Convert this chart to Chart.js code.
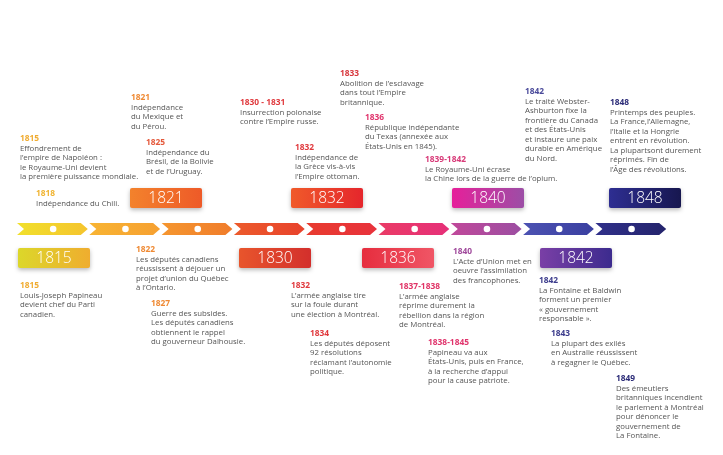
<!DOCTYPE html>
<html>
<head>
<meta charset="utf-8">
<script src="https://cdn.jsdelivr.net/npm/chart.js@4"></script>
<style>
  body { margin: 0; background: #fff; }
  #wrap { width: 723px; height: 455px; }
</style>
</head>
<body>
<div id="wrap"><canvas id="timeline" width="723" height="455"></canvas></div>
<script>
'use strict';

//***********Data***********
// the nine arrow pieces of the timeline band
let segmentCount = 9;

// big year boxes
let boxYears = ['1815', '1821', '1830', '1832', '1836', '1840', '1842', '1848'];

// events (heading + text lines)
let eventYears = [
  '1815', '1818', '1821', '1825', '1830 - 1831', '1832', '1833', '1836', '1839-1842', '1842', '1848',
  '1815', '1822', '1827', '1832', '1834', '1837-1838', '1838-1845', '1840', '1842', '1843', '1849'
];
let eventTexts = [
  ['Effondrement de', 'l\u2019empire de Napoléon :', 'le Royaume-Uni devient', 'la première puissance mondiale.'],
  ['Indépendance du Chili.'],
  ['Indépendance', 'du Mexique et', 'du Pérou.'],
  ['Indépendance du', 'Brésil, de la Bolivie', 'et de l\u2019Uruguay.'],
  ['Insurrection polonaise', 'contre l\u2019Empire russe.'],
  ['Indépendance de', 'la Grèce vis-à-vis', 'l\u2019Empire ottoman.'],
  ['Abolition de l\u2019esclavage', 'dans tout l\u2019Empire', 'britannique.'],
  ['République indépendante', 'du Texas (annexée aux', 'États-Unis en 1845).'],
  ['Le Royaume-Uni écrase', 'la Chine lors de la guerre de l\u2019opium.'],
  ['Le traité Webster-', 'Ashburton fixe la', 'frontière du Canada', 'et des États-Unis', 'et instaure une paix', 'durable en Amérique', 'du Nord.'],
  ['Printemps des peuples.', 'La France,l\u2019Allemagne,', 'l\u2019Italie et la Hongrie', 'entrent en révolution.', 'La plupartsont durement', 'réprimés. Fin de', 'l\u2019Âge des révolutions.'],
  ['Louis-Joseph Papineau', 'devient chef du Parti', 'canadien.'],
  ['Les députés canadiens', 'réussissent à déjouer un', 'projet d\u2019union du Québec', 'à l\u2019Ontario.'],
  ['Guerre des subsides.', 'Les députés canadiens', 'obtiennent le rappel', 'du gouverneur Dalhousie.'],
  ['L\u2019armée anglaise tire', 'sur la foule durant', 'une élection à Montréal.'],
  ['Les députés déposent', '92 résolutions', 'réclamant l\u2019autonomie', 'politique.'],
  ['L\u2019armée anglaise', 'réprime durement la', 'rébellion dans la région', 'de Montréal.'],
  ['Papineau va aux', 'États-Unis, puis en France,', 'à la recherche d\u2019appui', 'pour la cause patriote.'],
  ['L\u2019Acte d\u2019Union met en', 'oeuvre l\u2019assimilation', 'des francophones.'],
  ['La Fontaine et Baldwin', 'forment un premier', '« gouvernement', 'responsable ».'],
  ['La plupart des exilés', 'en Australie réussissent', 'à regagner le Québec.'],
  ['Des émeutiers', 'britanniques incendient', 'le parlement à Montréal', 'pour dénoncer le', 'gouvernement de', 'La Fontaine.']
];

//***********Layout & styles***********
let band = { start: 17, width: 72.3, top: 223, bottom: 235, tip: 7, gap: 1.5 };
let segmentColors = [
  ['#f1e02c', '#f5c42e'], ['#f8b433', '#f6a031'], ['#f5962f', '#f07c2b'],
  ['#ec5b2c', '#e8422c'], ['#e83b2f', '#e8323c'], ['#ea3b66', '#e63079'],
  ['#c0489a', '#9c4ea2'], ['#4c52b2', '#3a3fa0'], ['#30308a', '#24246c']
];
// box left x and top y
let boxPos = [[18, 248], [130, 188], [239, 248], [291, 188], [362, 248], [452, 188], [540, 248], [609, 188]];
let boxColors = [
  ['#dcd72a', '#efad2f'], ['#f3822c', '#ee5a28'], ['#e8552c', '#d32f2c'], ['#f05a2a', '#e5262c'],
  ['#e62d3e', '#f05666'], ['#e6209a', '#9c4ea6'], ['#7a3fa6', '#3c2b8e'], ['#2e2e92', '#17174f']
];
// event heading x, y
let eventPos = [
  [20, 139], [36, 194], [131, 98], [146, 143], [240, 103], [295, 148], [340, 74], [365, 118], [425, 160], [525, 92], [610, 103],
  [20, 286], [136, 250], [151, 304], [291, 286], [310, 334], [399, 287], [428, 343], [453, 252], [539, 281], [551, 334], [616, 379]
];
let eventColors = [
  '#f0ac32', '#f0b432', '#ef8a34', '#e4583a', '#e03a3e', '#e03a3e', '#d8383e', '#e0346c', '#d83a78', '#4a4a9a', '#2c2c78',
  '#f0ac32', '#ef8a34', '#ef8a34', '#e03a3e', '#e03a3e', '#e03466', '#e0346c', '#a04a9c', '#3c3c8c', '#3c3c8c', '#2c2c78'
];

//***********Dots on the band***********
let dotPoints = [];
for (let i = 0; i < segmentCount; i++) {
  dotPoints.push({ x: band.start + (i + 0.5) * band.width, y: (band.top + band.bottom) / 2 });
}

function hGrad(ctx, x0, x1, c) {
  let g = ctx.createLinearGradient(x0, 0, x1, 0);
  g.addColorStop(0, c[0]);
  g.addColorStop(1, c[1]);
  return g;
}

//********Plugin: arrows, boxes, texts***********
let timelinePlugin = {
  id: 'timeline',
  beforeDatasetsDraw(chart) {
    let ctx = chart.ctx;
    let xs = chart.scales.x;
    let ys = chart.scales.y;
    let top = ys.getPixelForValue(band.top);
    let bot = ys.getPixelForValue(band.bottom);
    let mid = (top + bot) / 2;
    for (let i = 0; i < segmentCount; i++) {
      let x0 = xs.getPixelForValue(band.start + i * band.width);
      let x1 = xs.getPixelForValue(band.start + (i + 1) * band.width - band.gap);
      ctx.save();
      ctx.beginPath();
      ctx.moveTo(x0, top);
      ctx.lineTo(x1 - band.tip, top);
      ctx.lineTo(x1, mid);
      ctx.lineTo(x1 - band.tip, bot);
      ctx.lineTo(x0, bot);
      ctx.lineTo(x0 + band.tip, mid);
      ctx.closePath();
      ctx.fillStyle = hGrad(ctx, x0, x1, segmentColors[i]);
      ctx.fill();
      ctx.restore();
    }

    // year boxes
    for (let i = 0; i < boxYears.length; i++) {
      let bx = xs.getPixelForValue(boxPos[i][0]);
      let by = ys.getPixelForValue(boxPos[i][1]);
      let bw = 72;
      let bh = 20;
      ctx.save();
      ctx.shadowColor = 'rgba(0,0,0,0.28)';
      ctx.shadowBlur = 4;
      ctx.shadowOffsetY = 2;
      ctx.fillStyle = hGrad(ctx, bx, bx + bw, boxColors[i]);
      ctx.beginPath();
      ctx.roundRect(bx, by, bw, bh, 2);
      ctx.fill();
      ctx.restore();
      ctx.save();
      ctx.fillStyle = '#fff';
      ctx.font = '300 15.5px "Open Sans"';
      ctx.textAlign = 'center';
      ctx.textBaseline = 'middle';
      ctx.fillText(boxYears[i], bx + bw / 2, by + bh / 2 + 1);
      ctx.restore();
    }

    // events
    for (let i = 0; i < eventYears.length; i++) {
      let ex = xs.getPixelForValue(eventPos[i][0]);
      let ey = ys.getPixelForValue(eventPos[i][1]);
      ctx.save();
      ctx.textBaseline = 'middle';
      ctx.textAlign = 'left';
      ctx.fillStyle = eventColors[i];
      ctx.font = 'bold 8.4px "Open Sans"';
      ctx.fillText(eventYears[i], ex, ey);
      ctx.fillStyle = '#555555';
      ctx.font = '7.8px "Open Sans"';
      for (let j = 0; j < eventTexts[i].length; j++) {
        ctx.fillText(eventTexts[i][j], ex, ey + 9.6 + j * 9.45);
      }
      ctx.restore();
    }
  }
};

//***********Chart***********
let ctx = document.getElementById('timeline').getContext('2d');
new Chart(ctx, {
  type: 'scatter',
  data: {
    datasets: [{
      data: dotPoints,
      pointRadius: 3.3,
      pointBackgroundColor: '#ffffff',
      pointBorderWidth: 0,
      pointHoverRadius: 3.3
    }]
  },
  options: {
    responsive: false,
    animation: false,
    events: [],
    layout: { padding: 0, autoPadding: false },
    plugins: { legend: { display: false }, tooltip: { enabled: false } },
    scales: {
      x: { type: 'linear', min: 0, max: 723, display: false },
      y: { type: 'linear', min: 0, max: 455, reverse: true, display: false }
    }
  },
  plugins: [timelinePlugin]
});
</script>
</body>
</html>
